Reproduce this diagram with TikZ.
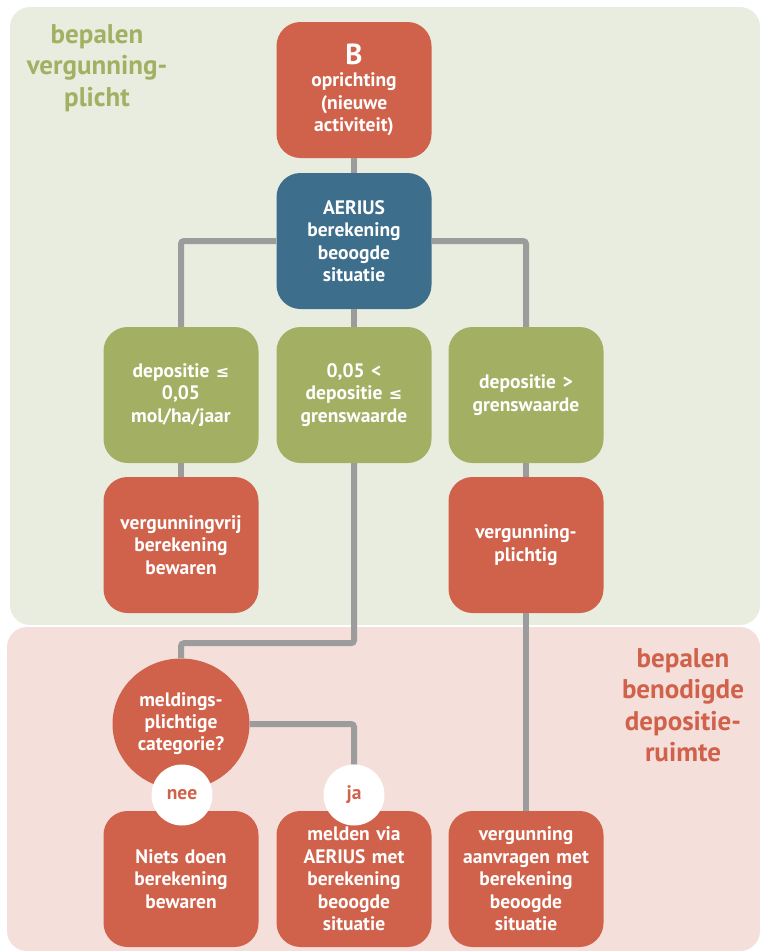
\documentclass[tikz,border=0pt]{standalone}
\usepackage{fontspec}
\setmainfont{PT Sans}
\newfontfamily\symfont{DejaVu Sans}
\usetikzlibrary{shapes.geometric}
\definecolor{boxred}{HTML}{D0624B}
\definecolor{boxblue}{HTML}{3D6E8C}
\definecolor{boxgreen}{HTML}{A3B063}
\definecolor{bggreen}{HTML}{E9EDDF}
\definecolor{bgpink}{HTML}{F4DFDA}
\definecolor{linegray}{HTML}{9C9C9C}
\newcommand{\lesym}{{\symfont\fontsize{16}{22.5}\selectfont ≤}}
\tikzset{
  box/.style={rounded corners=24pt, minimum width=155pt, minimum height=136pt,
    text width=145pt, align=center, text=white, inner sep=0pt,
    font=\fontsize{19.5}{22.5}\selectfont\bfseries},
  redbox/.style={box, fill=boxred},
  bluebox/.style={box, fill=boxblue},
  greenbox/.style={box, fill=boxgreen},
  link/.style={draw=linegray, line width=6pt, rounded corners=3pt},
  answer/.style={circle, fill=white, minimum size=61pt, inner sep=0pt,
    text=boxred, font=\fontsize{19.5}{22}\selectfont\bfseries},
  phase/.style={align=center, font=\fontsize{27}{31.5}\selectfont\bfseries}
}
\begin{document}
\begin{tikzpicture}[x=1pt,y=-1pt]
\useasboundingbox (0,0) rectangle (760,951);
%panels
\fill[bggreen, rounded corners=20pt] (10,7) rectangle (760,625);
\fill[bgpink, rounded corners=20pt] (7,627) rectangle (760,951);
\path (97,68) node[phase, text=boxgreen] (fase1) {bepalen\\vergunning-\\plicht};
\path (683,705) node[phase, text=boxred] (fase2) {bepalen\\benodigde\\depositie-\\ruimte};
%row1
\path (354,90) node[redbox] (start) {{\fontsize{29}{28}\selectfont B}\\oprichting\\(nieuwe\\activiteit)};
\path (354,241) node[bluebox] (aerius) {AERIUS\\berekening\\beoogde\\situatie};
%row2
\path (181,395) node[greenbox] (laag) {depositie \lesym\\0,05\\mol/ha/jaar};
\path (354,395) node[greenbox] (midden) {0,05 <\\depositie \lesym\\grenswaarde};
\path (526,395) node[greenbox] (hoog) {depositie >\\grenswaarde};
\path (181,545) node[redbox] (vrij) {vergunningvrij\\berekening\\bewaren};
\path (526,545) node[redbox] (plichtig) {vergunning-\\plichtig};
%row3
\path (181,724) node[ellipse, fill=boxred, minimum width=137pt, minimum height=131pt,
  text width=92pt, align=center, text=white, inner sep=0pt,
  font=\fontsize{19.5}{22}\selectfont\bfseries] (vraag) {meldings-\\plichtige\\categorie?};
\path (181,879) node[redbox] (niets) {Niets doen\\berekening\\bewaren};
\path (354,879) node[redbox] (melden) {melden via\\AERIUS met\\berekening\\beoogde\\situatie};
\path (526,879) node[redbox] (aanvragen) {vergunning\\aanvragen met\\berekening\\beoogde\\situatie};
\path (182,795) node[answer] (nee) {nee};
\path (354,795) node[answer] (ja) {ja};
%lines
\draw[link] (start) -- (aerius);
\draw[link] (aerius.west) -| (laag.north);
\draw[link] (aerius.east) -| (hoog.north);
\draw[link] (aerius) -- (midden);
\draw[link] (laag) -- (vrij);
\draw[link] (hoog) -- (plichtig);
\draw[link] (plichtig) -- (aanvragen);
\draw[link] (midden.south) -- ++(0,180) -| (vraag.north);
\draw[link] (vraag.east) -| (ja.north);
\end{tikzpicture}
\end{document}
